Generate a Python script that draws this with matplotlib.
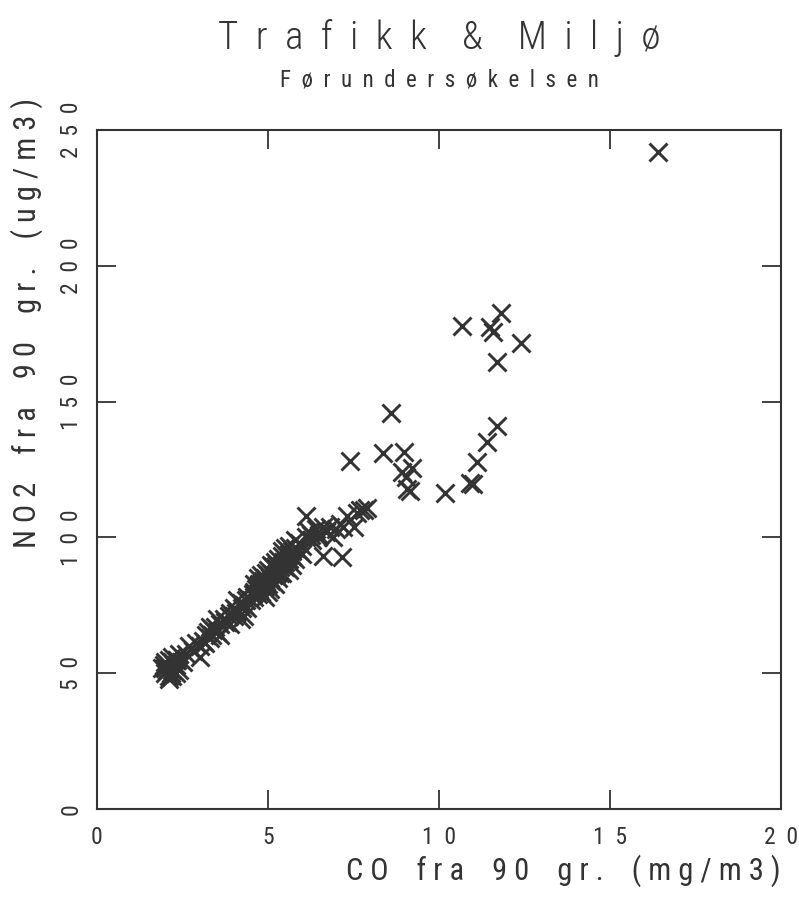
import matplotlib
matplotlib.use('Agg')
import matplotlib.pyplot as plt
from matplotlib import font_manager

# pick a narrow font if one is installed
names = {f.name for f in font_manager.fontManager.ttflist}
font = 'DejaVu Sans'
for cand in ['Roboto Condensed', 'Liberation Sans Narrow', 'DejaVu Sans Condensed']:
    if cand in names:
        font = cand
        break
plt.rcParams['font.family'] = [font, 'DejaVu Sans']

# CO (mg/m3) and NO2 (ug/m3)
co = [2.0, 2.1, 2.2, 2.3, 2.0, 2.2, 2.4, 1.9, 2.1, 2.3, 2.5, 2.2, 2.0, 2.4, 2.1,
      2.15, 2.25, 2.05, 2.35, 1.95, 2.2, 2.3, 2.1,
      2.6, 2.8, 2.9, 3.0, 3.1, 3.2, 3.3, 3.4, 3.5, 3.6, 3.0, 3.3, 3.7, 3.8, 3.9,
      4.0, 4.0, 4.1, 4.2, 4.3, 4.3, 4.4, 4.5, 3.6, 3.9, 4.2, 2.7, 3.5, 4.1, 4.4,
      3.25, 3.35, 3.45, 3.15, 3.75, 3.85, 4.05, 4.25, 4.35,
      4.6, 4.6, 4.7, 4.7, 4.8, 4.8, 4.9, 4.9, 5.0, 5.0, 5.0, 5.1, 5.1, 5.2, 5.2,
      5.2, 5.3, 5.3, 5.4, 5.4, 5.4, 5.5, 5.5, 5.6, 5.6, 5.6, 5.7, 5.7, 5.8, 5.8,
      5.9, 5.9, 4.8, 5.0, 5.3, 5.1, 4.9, 5.5, 5.7, 4.7, 5.2, 5.8, 5.4, 5.6, 4.6,
      4.55, 4.65, 4.75, 4.85, 4.95, 5.05, 5.15, 5.25, 5.35, 5.45, 5.55, 5.65,
      4.75, 4.95, 5.15, 5.35, 5.05, 5.25,
      6.0, 6.1, 6.0, 6.2, 6.1, 6.3, 6.4, 6.5, 6.6, 6.6, 6.7, 6.8, 7.0, 7.1, 7.2,
      7.3, 7.5, 7.6, 7.7, 7.8, 7.9, 6.9, 7.16, 6.25, 6.45,
      7.40, 8.36, 8.98, 8.60, 9.21, 8.92, 9.04, 9.06, 9.15, 10.18, 10.91, 11.0,
      11.11, 11.40, 11.70, 10.67, 11.81, 11.49, 11.58, 12.40, 11.70, 16.4]
no2 = [50, 52, 49, 53, 54, 56, 51, 52, 48, 55, 54, 51, 52, 57, 55,
       50, 53, 51, 55, 53, 54, 50, 49,
       57, 58, 61, 60, 62, 64, 63, 66, 65, 68, 56, 67, 70, 69, 72,
       71, 74, 73, 76, 75, 71, 78, 77, 64, 68, 70, 60, 70, 77, 74,
       65, 64, 67, 61, 69, 71, 72, 74, 77,
       80, 78, 82, 79, 83, 80, 85, 82, 86, 83, 88, 87, 84, 89, 86,
       91, 88, 85, 90, 93, 87, 91, 89, 94, 92, 88, 95, 93, 96, 92,
       98, 95, 86, 80, 92, 90, 78, 96, 90, 85, 83, 99, 95, 97, 83,
       79, 81, 81, 84, 84, 85, 86, 87, 89, 91, 93, 94,
       83, 87, 89, 87, 81, 90,
       97, 100, 94, 102, 108, 99, 103, 101, 104, 93, 102, 104, 103, 105, 104,
       108, 104, 109, 110, 110, 111, 100, 92.6, 101, 100,
       128.3, 131.2, 131.6, 145.9, 125.4, 123.9, 122.4, 118.0, 116.9, 116.2, 119.9, 119.5,
       127.9, 135.3, 141.2, 177.9, 182.7, 177.6, 175.7, 171.7, 164.7, 241.9]

xticks = [0, 5, 10, 15, 20]
xlabels = ['0', '5', '1  0', '1  5', '2  0']
yticks = [0, 50, 100, 150, 200, 250]
ylabels = ['0', '5  0', '1  0  0', '1  5  0', '2  0  0', '2  5  0']


def spaced(s, gap='  ', word='    '):
    return word.join(gap.join(w) for w in s.split(' '))


ink = '#333333'
fig = plt.figure(figsize=(7.99, 9.01), dpi=100)
ax = fig.add_axes([97/799, 92/901, 684/799, 679/901])

ax.plot(co, no2, linestyle='none', marker='x', markersize=13.5, markeredgewidth=2.1, color=ink)

ax.set_xlim(0, 20)
ax.set_ylim(0, 250)
ax.set_xticks(xticks)
ax.set_xticklabels(xlabels)
ax.set_yticks(yticks)
ax.set_yticklabels(ylabels, rotation=90, va='center')
ax.tick_params(direction='in', length=14, width=1.3, colors=ink, labelsize=17,
               top=True, right=True)
ax.tick_params(axis='x', pad=12)
ax.tick_params(axis='y', pad=10)
for s in ax.spines.values():
    s.set_linewidth(1.5)
    s.set_color(ink)

fig.text(439/799, 1 - 38/901, spaced('Trafikk & Miljø'), ha='center', va='center',
         fontsize=28, color=ink, fontweight='light')
fig.text(439/799, 1 - 80/901, spaced('Førundersøkelsen'), ha='center', va='center',
         fontsize=16.5, color=ink)
fig.text(781/799, 1 - 871/901, spaced('CO fra 90 gr. (mg/m3)', gap=' ', word='    '),
         ha='right', va='center', fontsize=22, color=ink)
fig.text(27/799, 1 - 98/901, spaced('NO2 fra 90 gr. (ug/m3)', gap=' ', word='    '),
         ha='center', va='top', rotation=90, fontsize=22, color=ink)

plt.savefig('out.png', dpi=100)
